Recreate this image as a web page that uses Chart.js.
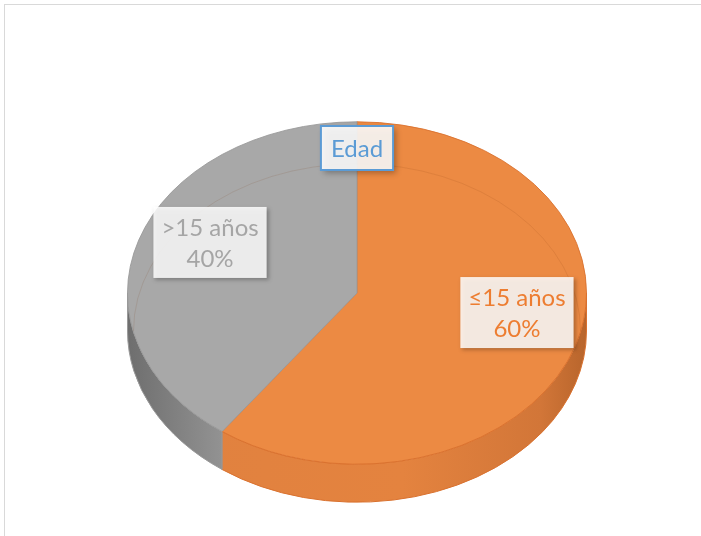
<!DOCTYPE html>
<html>
<head>
<meta charset="utf-8">
<script src="https://cdn.jsdelivr.net/npm/chart.js@4"></script>
<style>
  body { margin: 0; background: #fff; overflow: hidden; }
  #wrap { position: relative; width: 701px; height: 536px; }
  #frame { position: absolute; left: 4px; top: 4px; width: 720px; height: 560px; border: 1px solid #d9d9d9; box-sizing: border-box; }
  #pieChart { position: absolute; left: 0; top: 0; }
</style>
</head>
<body>
<div id="wrap">
  <div id="frame"></div>
  <canvas id="pieChart" width="701" height="536"></canvas>
</div>
<script>
const chartTitle = 'Edad';
const categories = ['≤15 años', '>15 años'];
const values = [60, 40];
const topColors = ['#ec8a43', '#a8a8a8'];
const edgeColors = ['#d9712e', '#999999'];
const sideStops = [
    ['#e0813f', '#e4833f', '#b8652c'],
    ['#6e6e6e', '#9a9a9a', '#a3a3a3']
];
const textColors = ['#ed7d31', '#a5a5a5'];
// small nudges so the label boxes sit where they do in the 3d view
const labelNudge = [[5, -6], [8, -1]];

const TILT = 0.746;   // vertical squash of the top face
const DEPTH = 38;     // thickness of the disc in px

const ctx = document.getElementById('pieChart').getContext('2d');

const pie3d = {
    id: 'pie3d',
    beforeDatasetsDraw(chart) {
        const c = chart.ctx;
        const arcs = chart.getDatasetMeta(0).data;
        const { x, y, outerRadius: r } = arcs[0];
        const ry = r * TILT;

        // side walls, only the front half (0..PI) is visible
        arcs.forEach((arc, i) => {
            const a0 = Math.min(Math.max(arc.startAngle, 0), Math.PI);
            const a1 = Math.min(Math.max(arc.endAngle, 0), Math.PI);
            if (a1 <= a0) return;
            const grad = c.createLinearGradient(x - r, 0, x + r, 0);
            const stops = sideStops[i];
            if (i === 1) {
                grad.addColorStop(0, stops[0]);
                grad.addColorStop(0.25, stops[1]);
                grad.addColorStop(1, stops[2]);
            } else {
                grad.addColorStop(0, stops[0]);
                grad.addColorStop(0.6, stops[1]);
                grad.addColorStop(0.9, '#d27638');
                grad.addColorStop(1, stops[2]);
            }
            c.save();
            c.beginPath();
            c.ellipse(x, y, r, ry, 0, a0, a1, false);
            c.ellipse(x, y + DEPTH, r, ry, 0, a1, a0, true);
            c.closePath();
            c.fillStyle = grad;
            c.fill();
            c.strokeStyle = edgeColors[i];
            c.lineWidth = 1;
            c.stroke();
            c.restore();
        });

        c.save();
        c.translate(x, y);
        c.scale(1, TILT);
        c.translate(-x, -y);
    },
    afterDatasetsDraw(chart) {
        const c = chart.ctx;
        c.restore();
        const arcs = chart.getDatasetMeta(0).data;
        const { x, y, outerRadius: r } = arcs[0];
        const ry = r * TILT;

        // far bottom edge, seen through the translucent top
        c.save();
        c.beginPath();
        c.ellipse(x, y, r, ry, 0, 0, Math.PI * 2);
        c.clip();
        c.beginPath();
        c.ellipse(x, y + DEPTH, r - 6, ry - 4, 0, Math.PI, Math.PI * 2);
        c.strokeStyle = 'rgba(120, 60, 20, 0.12)';
        c.lineWidth = 1;
        c.stroke();
        c.restore();

        // data labels
        const total = values.reduce((a, b) => a + b, 0);
        c.save();
        c.font = '24px Lato, "Open Sans", sans-serif';
        c.textAlign = 'center';
        c.textBaseline = 'middle';
        arcs.forEach((arc, i) => {
            const mid = (arc.startAngle + arc.endAngle) / 2;
            const lx = x + Math.cos(mid) * r * 0.71 + labelNudge[i][0];
            const ly = y + Math.sin(mid) * ry * 0.71 - 12 + labelNudge[i][1];
            const line1 = categories[i];
            const line2 = Math.round(values[i] / total * 100) + '%';
            const w = Math.max(c.measureText(line1).width, c.measureText(line2).width) + 16;
            const h = 71;
            c.save();
            c.shadowColor = 'rgba(0,0,0,0.3)';
            c.shadowBlur = 4;
            c.shadowOffsetX = 2;
            c.shadowOffsetY = 2;
            c.fillStyle = 'rgba(255,255,255,0.85)';
            c.fillRect(lx - w / 2, ly - h / 2, w, h);
            c.restore();
            c.fillStyle = textColors[i];
            c.fillText(line1, lx, ly - 14);
            c.fillText(line2, lx, ly + 17);
        });
        c.restore();

        // title box over the top of the pie
        c.save();
        c.font = '24px Lato, "Open Sans", sans-serif';
        c.textAlign = 'center';
        c.textBaseline = 'middle';
        const tw = c.measureText(chartTitle).width + 20;
        const th = 44;
        const tx = x;
        const ty = 148;
        c.save();
        c.shadowColor = 'rgba(0,0,0,0.35)';
        c.shadowBlur = 6;
        c.shadowOffsetX = 3;
        c.shadowOffsetY = 3;
        c.fillStyle = 'rgba(255,255,255,0.88)';
        c.fillRect(tx - tw / 2, ty - th / 2, tw, th);
        c.restore();
        c.strokeStyle = '#5b9bd5';
        c.lineWidth = 2;
        c.strokeRect(tx - tw / 2, ty - th / 2, tw, th);
        c.fillStyle = '#5b9bd5';
        c.fillText(chartTitle, tx, ty + 1);
        c.restore();
    }
};

const myChart = new Chart(ctx, {
    type: 'pie',
    data: {
        labels: categories,
        datasets: [{
            data: values,
            backgroundColor: topColors,
            borderColor: edgeColors,
            borderWidth: 1
        }]
    },
    options: {
        responsive: false,
        animation: false,
        layout: { padding: { left: 127, right: 114, top: 63, bottom: 13 } },
        plugins: {
            legend: { display: false },
            tooltip: { enabled: false }
        }
    },
    plugins: [pie3d]
});
</script>
</body>
</html>
